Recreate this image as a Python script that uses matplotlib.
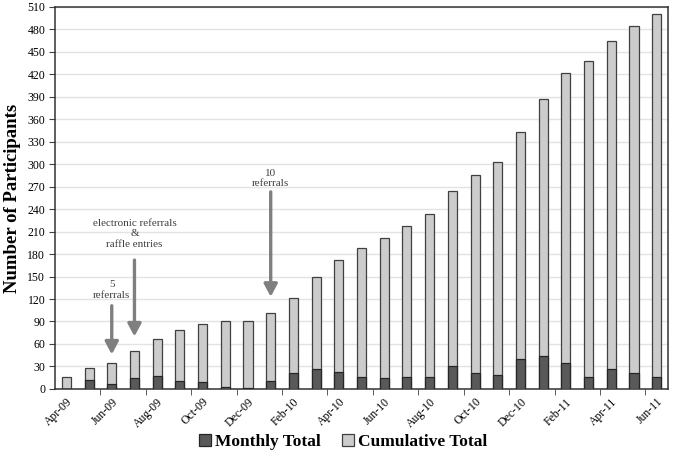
import numpy as np
import matplotlib
matplotlib.use("Agg")
import matplotlib.pyplot as plt

plt.rcParams['font.family'] = ['Liberation Serif', 'DejaVu Serif']

months = ['Apr-09', 'May-09', 'Jun-09', 'Jul-09', 'Aug-09', 'Sep-09', 'Oct-09',
          'Nov-09', 'Dec-09', 'Jan-10', 'Feb-10', 'Mar-10', 'Apr-10', 'May-10',
          'Jun-10', 'Jul-10', 'Aug-10', 'Sep-10', 'Oct-10', 'Nov-10', 'Dec-10',
          'Jan-11', 'Feb-11', 'Mar-11', 'Apr-11', 'May-11', 'Jun-11']
monthly = [0, 12, 7, 15, 17, 11, 9, 3, 1, 10, 21, 27, 23, 16, 14, 16, 16,
           30, 21, 18, 40, 44, 35, 16, 26, 21, 16]
cumulative = [16, 28, 35, 50, 67, 78, 87, 90, 91, 101, 122, 149, 172, 188,
              202, 218, 234, 264, 285, 303, 343, 387, 422, 438, 464, 485, 501]

# annotations: (bar index, text, arrow tail, arrow tip, text y)
notes = [(2, '5\nreferrals', 111, 46, 119),
         (3, 'electronic referrals\n&\nraffle entries', 172, 70, 187),
         (9, '10\nreferrals', 263, 123, 268)]

x = np.arange(len(months))

fig = plt.figure(figsize=(6.73, 4.57), dpi=100)
ax = fig.add_axes([0.0817, 0.149, 0.911, 0.836])

edge = '#404040'
ax.bar(x, cumulative, width=0.4, color='#cccccc', edgecolor=edge, linewidth=0.9,
       label='Cumulative Total', zorder=2)
ax.bar(x, monthly, width=0.4, color='#595959', edgecolor='#262626', linewidth=0.9,
       label='Monthly Total', zorder=3)

for i, txt, tail, tip, ty in notes:
    ax.annotate('', xy=(i, tip), xytext=(i, tail),
                arrowprops=dict(arrowstyle='-|>,head_length=0.75,head_width=0.4',
                                color='#7f7f7f', lw=2.4, shrinkA=0, shrinkB=0),
                zorder=4)
    ax.text(i, ty, txt, ha='center', va='bottom', fontsize=8,
            color='#404040', linespacing=1.2)

ax.set_xlim(-0.5, len(months) - 0.5)
ax.set_ylim(0, 510)
ax.set_yticks(np.arange(0, 511, 30))
ax.yaxis.grid(True, color='#e3e3e3', linewidth=1, zorder=0)
ax.set_axisbelow(True)

ax.set_xticks(x[::2])
ax.set_xticklabels(months[::2], rotation=45, ha='right', rotation_mode='anchor',
                   fontsize=8.5)
ax.set_xticks(np.arange(1.5, len(months), 2), minor=True)
ax.tick_params(axis='x', which='major', length=0, pad=5)
ax.tick_params(axis='x', which='minor', length=4, color=edge)
ax.tick_params(axis='y', labelsize=8.5, length=4, color=edge, pad=3)

for s in ax.spines.values():
    s.set_color('#333333')
    s.set_linewidth(1.1)

# y axis title placed in figure coords so it sits fully inside the left margin
fig.text(13 / 673, 0.567, 'Number of Participants', rotation=90, ha='center',
         va='center', fontsize=13.5, fontweight='bold')

handles, labels = ax.get_legend_handles_labels()
fig.legend(handles[::-1], labels[::-1], loc='center', bbox_to_anchor=(0.51, 0.033),
           ncol=2, frameon=False, prop={'weight': 'bold', 'size': 12.5},
           handlelength=0.7, handleheight=0.7, handletextpad=0.25, columnspacing=1.2)

fig.savefig('out.png', dpi=100)
